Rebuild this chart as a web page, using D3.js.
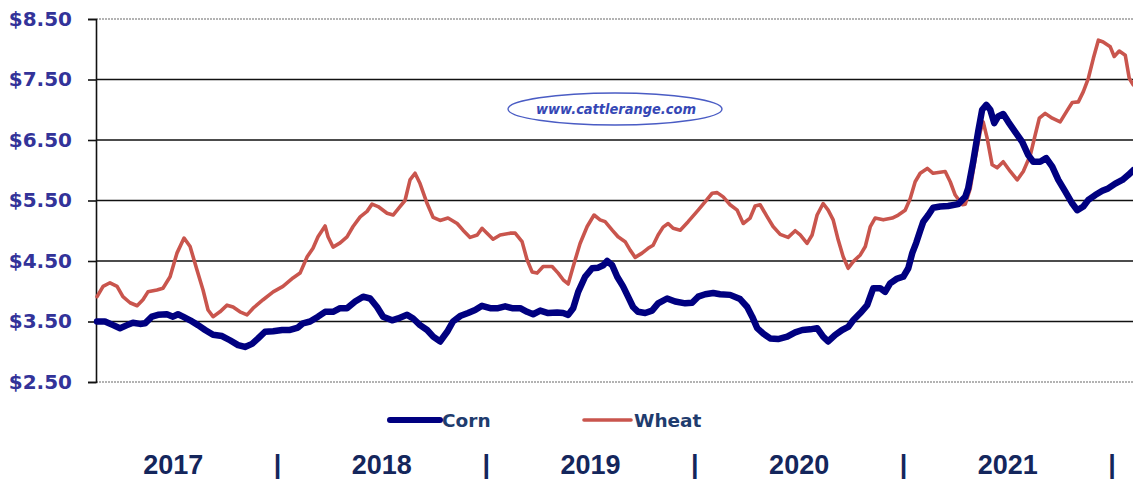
<!DOCTYPE html>
<html>
<head>
<meta charset="utf-8">
<script src="https://cdn.jsdelivr.net/npm/d3@7"></script>
<style>
  html, body { margin: 0; padding: 0; background: #fff; }
  svg { display: block; }
</style>
</head>
<body>
<svg id="chart" width="1133" height="479"></svg>
<script>
// ---- Data (fractional year, price in $/bu) ----
const cornDates = [2017.135,2017.173,2017.212,2017.245,2017.279,2017.307,2017.341,2017.365,2017.398,2017.427,2017.47,2017.499,2017.523,2017.547,2017.581,2017.619,2017.653,2017.691,2017.734,2017.772,2017.811,2017.844,2017.878,2017.907,2017.94,2017.979,2018.022,2018.06,2018.098,2018.122,2018.156,2018.194,2018.228,2018.266,2018.30,2018.333,2018.372,2018.41,2018.444,2018.477,2018.506,2018.549,2018.578,2018.621,2018.65,2018.683,2018.717,2018.746,2018.779,2018.813,2018.841,2018.875,2018.913,2018.947,2018.98,2019.019,2019.057,2019.091,2019.124,2019.163,2019.196,2019.225,2019.259,2019.297,2019.34,2019.369,2019.393,2019.417,2019.441,2019.474,2019.508,2019.537,2019.561,2019.58,2019.604,2019.628,2019.656,2019.68,2019.704,2019.728,2019.762,2019.795,2019.824,2019.867,2019.906,2019.954,2019.987,2020.016,2020.05,2020.088,2020.121,2020.169,2020.217,2020.251,2020.275,2020.299,2020.328,2020.361,2020.399,2020.443,2020.481,2020.515,2020.553,2020.586,2020.615,2020.639,2020.673,2020.706,2020.735,2020.759,2020.793,2020.826,2020.855,2020.888,2020.912,2020.936,2020.97,2020.999,2021.023,2021.042,2021.061,2021.08,2021.095,2021.119,2021.142,2021.176,2021.214,2021.262,2021.296,2021.31,2021.334,2021.358,2021.377,2021.397,2021.416,2021.435,2021.454,2021.478,2021.502,2021.536,2021.569,2021.598,2021.622,2021.655,2021.684,2021.713,2021.742,2021.775,2021.809,2021.833,2021.862,2021.886,2021.919,2021.953,2021.981,2022.015,2022.049,2022.077,2022.101];
const cornPrices = [3.50,3.50,3.44,3.39,3.44,3.48,3.46,3.47,3.58,3.61,3.62,3.58,3.62,3.58,3.52,3.44,3.36,3.28,3.26,3.19,3.11,3.08,3.13,3.22,3.33,3.34,3.36,3.36,3.40,3.47,3.50,3.58,3.66,3.66,3.72,3.72,3.83,3.91,3.88,3.74,3.58,3.52,3.55,3.61,3.55,3.44,3.36,3.25,3.17,3.33,3.50,3.59,3.64,3.69,3.76,3.72,3.72,3.75,3.72,3.72,3.66,3.62,3.68,3.64,3.65,3.64,3.61,3.72,3.99,4.24,4.38,4.39,4.43,4.50,4.43,4.24,4.08,3.91,3.74,3.66,3.64,3.68,3.80,3.88,3.83,3.80,3.81,3.91,3.95,3.97,3.95,3.94,3.87,3.74,3.58,3.39,3.30,3.22,3.21,3.25,3.32,3.36,3.37,3.39,3.25,3.17,3.28,3.36,3.41,3.52,3.64,3.77,4.05,4.05,3.99,4.13,4.21,4.24,4.38,4.63,4.80,5.00,5.15,5.26,5.38,5.40,5.41,5.44,5.56,5.70,6.14,6.64,7.00,7.08,7.00,6.78,6.89,6.93,6.80,6.63,6.47,6.25,6.14,6.14,6.20,6.06,5.84,5.65,5.45,5.34,5.40,5.51,5.59,5.66,5.70,5.78,5.84,5.92,6.00];

const wheatDates = [2017.135,2017.164,2017.197,2017.231,2017.259,2017.293,2017.327,2017.355,2017.379,2017.422,2017.451,2017.485,2017.518,2017.552,2017.581,2017.614,2017.643,2017.667,2017.691,2017.724,2017.758,2017.787,2017.82,2017.854,2017.883,2017.931,2017.979,2018.026,2018.074,2018.108,2018.142,2018.17,2018.194,2018.228,2018.242,2018.266,2018.30,2018.333,2018.362,2018.396,2018.429,2018.453,2018.482,2018.525,2018.554,2018.587,2018.611,2018.635,2018.659,2018.683,2018.717,2018.746,2018.779,2018.817,2018.861,2018.889,2018.923,2018.957,2018.98,2019.004,2019.033,2019.067,2019.115,2019.139,2019.172,2019.196,2019.22,2019.244,2019.273,2019.316,2019.345,2019.369,2019.393,2019.417,2019.45,2019.484,2019.517,2019.546,2019.57,2019.604,2019.632,2019.666,2019.69,2019.714,2019.747,2019.776,2019.80,2019.824,2019.848,2019.872,2019.896,2019.93,2019.968,2020.016,2020.05,2020.083,2020.107,2020.136,2020.169,2020.203,2020.232,2020.265,2020.289,2020.313,2020.347,2020.375,2020.409,2020.447,2020.481,2020.505,2020.538,2020.562,2020.586,2020.615,2020.639,2020.663,2020.687,2020.711,2020.735,2020.759,2020.793,2020.817,2020.841,2020.864,2020.903,2020.946,2020.975,2021.008,2021.032,2021.056,2021.08,2021.114,2021.142,2021.20,2021.224,2021.248,2021.282,2021.296,2021.32,2021.344,2021.368,2021.382,2021.401,2021.425,2021.449,2021.478,2021.512,2021.545,2021.574,2021.608,2021.631,2021.651,2021.679,2021.713,2021.751,2021.785,2021.809,2021.838,2021.862,2021.886,2021.91,2021.934,2021.957,2021.991,2022.01,2022.034,2022.063,2022.082,2022.101];
const wheatPrices = [3.91,4.08,4.14,4.08,3.91,3.81,3.76,3.86,3.99,4.02,4.05,4.24,4.63,4.88,4.74,4.35,4.02,3.69,3.58,3.66,3.77,3.74,3.66,3.61,3.72,3.86,3.99,4.08,4.22,4.30,4.57,4.71,4.90,5.08,4.90,4.73,4.80,4.90,5.07,5.23,5.32,5.44,5.40,5.29,5.26,5.40,5.50,5.84,5.95,5.78,5.45,5.22,5.17,5.21,5.12,5.01,4.89,4.93,5.04,4.96,4.86,4.93,4.96,4.96,4.82,4.52,4.32,4.30,4.41,4.41,4.30,4.19,4.12,4.41,4.79,5.07,5.26,5.18,5.15,5.01,4.90,4.82,4.68,4.56,4.63,4.71,4.76,4.93,5.06,5.12,5.04,5.01,5.15,5.34,5.48,5.62,5.63,5.56,5.43,5.34,5.12,5.21,5.41,5.43,5.23,5.07,4.94,4.89,5.00,4.93,4.79,4.93,5.26,5.45,5.34,5.18,4.85,4.57,4.38,4.49,4.60,4.74,5.07,5.21,5.18,5.21,5.26,5.34,5.53,5.81,5.95,6.03,5.95,5.98,5.81,5.59,5.43,5.44,5.70,6.20,6.64,6.80,6.53,6.09,6.04,6.14,5.98,5.84,5.98,6.25,6.58,6.86,6.94,6.86,6.80,6.99,7.12,7.13,7.30,7.52,7.85,8.15,8.12,8.04,7.88,7.97,7.90,7.52,7.41];

const yTicks = [2.5, 3.5, 4.5, 5.5, 6.5, 7.5, 8.5];
const yearLabels = [2017, 2018, 2019, 2020, 2021];
const seriesNames = ["Corn", "Wheat"];
const watermarkText = "www.cattlerange.com";

// ---- Layout ----
const svg = d3.select("#chart");
const pLeft = 96, pRight = 1133, pTop = 19, pBottom = 382;
const x = d3.scaleLinear().domain([2017.13, 2022.10]).range([pLeft, pRight]);
const y = d3.scaleLinear().domain([2.5, 8.5]).range([pBottom, pTop]);

// plot area border (top/bottom) grey dotted
[pTop, pBottom].forEach(v => {
  svg.append("line").attr("x1", pLeft).attr("x2", pRight).attr("y1", v).attr("y2", v)
    .attr("stroke", "#9a9a9a").attr("stroke-width", 1.5).attr("stroke-dasharray", "2,1");
});

// gridlines
svg.append("g").selectAll("line")
  .data(yTicks.filter(t => t > 2.5 && t < 8.5))
  .join("line")
  .attr("x1", pLeft).attr("x2", pRight)
  .attr("y1", d => y(d)).attr("y2", d => y(d))
  .attr("stroke", "#111").attr("stroke-width", 1.6);

// y axis
const yAxis = d3.axisLeft(y).tickValues(yTicks).tickSize(8).tickPadding(16)
  .tickFormat(d => "$" + d3.format(".2f")(d));
const ag = svg.append("g").attr("transform", `translate(${pLeft},0)`).call(yAxis);
ag.select(".domain").attr("stroke", "#111").attr("stroke-width", 1.6);
ag.selectAll(".tick line").attr("stroke", "#111").attr("stroke-width", 1.6);
ag.selectAll(".tick text")
  .attr("fill", "#333399")
  .style("font-family", "'DejaVu Sans', Verdana, sans-serif")
  .style("font-weight", "bold")
  .style("font-size", "20px");

// watermark
svg.append("ellipse").attr("cx", 615).attr("cy", 109).attr("rx", 107).attr("ry", 16)
  .attr("fill", "none").attr("stroke", "#4a5cc4").attr("stroke-width", 1.4);
svg.append("text").attr("x", 616).attr("y", 114).attr("text-anchor", "middle")
  .attr("textLength", 160).attr("lengthAdjust", "spacingAndGlyphs")
  .style("font-family", "'DejaVu Sans', Verdana, sans-serif")
  .style("font-weight", "bold").style("font-style", "italic").style("font-size", "14px")
  .attr("fill", "#3547b5").text(watermarkText);

// lines
const line = d3.line().x(d => x(d[0])).y(d => y(d[1])).curve(d3.curveLinear);
const cornData = cornDates.map((d, i) => [d, cornPrices[i]]);
const wheatData = wheatDates.map((d, i) => [d, wheatPrices[i]]);

svg.append("path").datum(wheatData).attr("d", line)
  .attr("fill", "none").attr("stroke", "#c9554d").attr("stroke-width", 3.6)
  .attr("stroke-linejoin", "round").attr("stroke-linecap", "round");
svg.append("path").datum(cornData).attr("d", line)
  .attr("fill", "none").attr("stroke", "#000080").attr("stroke-width", 6.5)
  .attr("stroke-linejoin", "round").attr("stroke-linecap", "round");

// legend
const legend = [
  { name: seriesNames[0], color: "#000080", w: 6, x1: 390, x2: 440, tx: 442 },
  { name: seriesNames[1], color: "#c9554d", w: 3.6, x1: 584, x2: 631, tx: 634 }
];
const lg = svg.append("g");
legend.forEach(l => {
  lg.append("line").attr("x1", l.x1).attr("x2", l.x2).attr("y1", 420).attr("y2", 420)
    .attr("stroke", l.color).attr("stroke-width", l.w).attr("stroke-linecap", "round");
  lg.append("text").attr("x", l.tx).attr("y", 427)
    .style("font-family", "'DejaVu Sans', Verdana, sans-serif")
    .style("font-weight", "bold").style("font-size", "18.5px")
    .attr("fill", "#1f3c6e").text(l.name);
});

// year labels and separators
const yg = svg.append("g")
  .style("font-family", "'Liberation Sans', Arial, sans-serif")
  .style("font-weight", "bold").style("font-size", "27px").attr("fill", "#14265c");
yg.selectAll("text.yr").data(yearLabels).join("text").attr("class", "yr")
  .attr("x", d => x(d + 0.5)).attr("y", 474).attr("text-anchor", "middle").text(d => d);
yg.selectAll("text.sep").data(yearLabels).join("text").attr("class", "sep")
  .attr("x", d => x(d + 1)).attr("y", 474).attr("text-anchor", "middle").text("|");
</script>
</body>
</html>
